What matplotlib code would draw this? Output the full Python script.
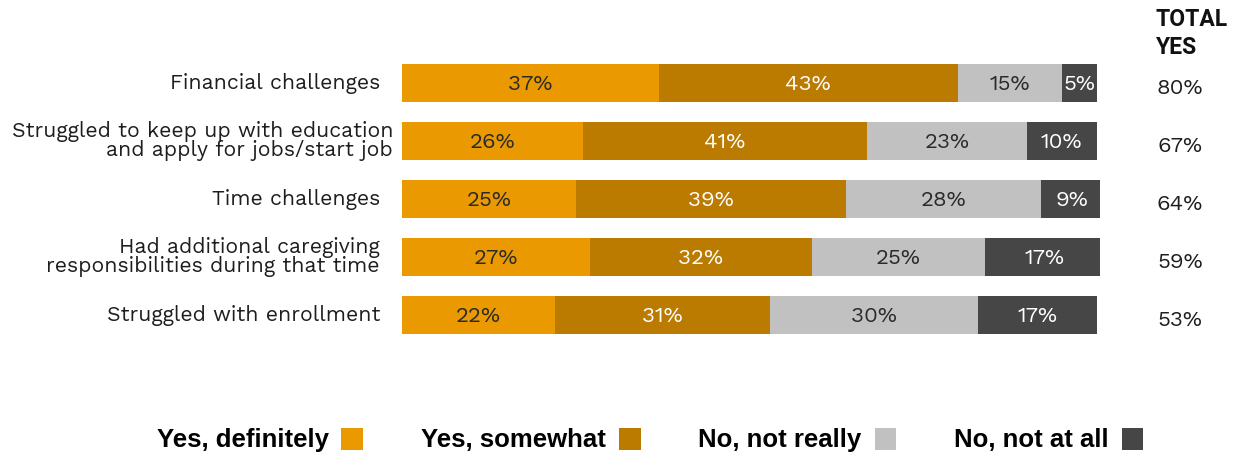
import matplotlib.pyplot as plt
from matplotlib.patches import Patch
import numpy as np

# Survey results, share of respondents per answer (%)
categories = [
    "Financial challenges",
    "Struggled to keep up with education\nand apply for jobs/start job",
    "Time challenges",
    "Had additional caregiving\nresponsibilities during that time",
    "Struggled with enrollment",
]
answers = ["Yes, definitely", "Yes, somewhat", "No, not really", "No, not at all"]
yes_definitely = [37, 26, 25, 27, 22]
yes_somewhat = [43, 41, 39, 32, 31]
no_not_really = [15, 23, 28, 25, 30]
no_not_at_all = [5, 10, 9, 17, 17]
total_yes = [80, 67, 64, 59, 53]

colors = ["#EA9A00", "#BB7A00", "#C1C1C1", "#464646"]
text_colors = ["#2A2A2A", "#FFFFFF", "#2A2A2A", "#FFFFFF"]

label_font = ["Work Sans", "Public Sans", "DejaVu Sans"]
legend_font = ["Liberation Sans", "DejaVu Sans"]
title_font = ["Roboto", "DejaVu Sans"]

fig = plt.figure(figsize=(12.33, 4.53), dpi=100)
ax = fig.add_axes([402 / 1233, 1 - 344 / 453, 698 / 1233, 290 / 453])
XMAX = 100.5
px = XMAX / 698  # data units per pixel along x

series = [yes_definitely, yes_somewhat, no_not_really, no_not_at_all]
y = np.arange(len(categories))
left = np.zeros(len(categories))
for values, color, tcolor in zip(series, colors, text_colors):
    vals = np.array(values, dtype=float)
    bars = ax.barh(y, vals, left=left, height=0.64, color=color, edgecolor="none")
    for rect, v in zip(bars, vals):
        ax.text(rect.get_x() + rect.get_width() / 2, rect.get_y() + rect.get_height() / 2 + 0.03,
                f"{v:.0f}%", ha="center", va="center", color=tcolor,
                fontsize=16, family=label_font, fontweight="light")
    left += vals

ax.set_xlim(0, XMAX)
ax.set_ylim(len(categories) - 0.5, -0.5)
ax.axis("off")

# category labels to the left of the bars; the long two-line label sits a bit closer
label_gap = [22, 9, 22, 22, 22]
for yi, cat, gap in zip(y, categories, label_gap):
    ax.text(-gap * px, yi, cat, ha="right", va="center",
            fontsize=15.3, family=label_font, fontweight="light", color="#1E1E1E",
            linespacing=0.82)

# total "yes" column
for yi, t in zip(y, total_yes):
    ax.text(XMAX + 80 * px, yi + 0.1, f"{t}%", ha="center", va="center",
            fontsize=16, family=label_font, fontweight="light", color="#1E1E1E")
fig.text(1156 / 1233, 1 - 8 / 453, "TOTAL\nYES", ha="left", va="top",
         fontsize=16.5, family=title_font, fontweight="bold", color="#111111",
         linespacing=1.3)

handles = [Patch(facecolor=c, edgecolor="none") for c in colors]
fig.legend(handles, answers, loc="center", bbox_to_anchor=(650 / 1233, 1 - 440 / 453),
           ncol=4, frameon=False, markerfirst=False, handlelength=0.85, handleheight=0.95,
           handletextpad=0.5, columnspacing=2.25,
           prop={"family": legend_font, "weight": "bold", "size": 18.5})

fig.savefig("out.png", dpi=100, facecolor="white")
